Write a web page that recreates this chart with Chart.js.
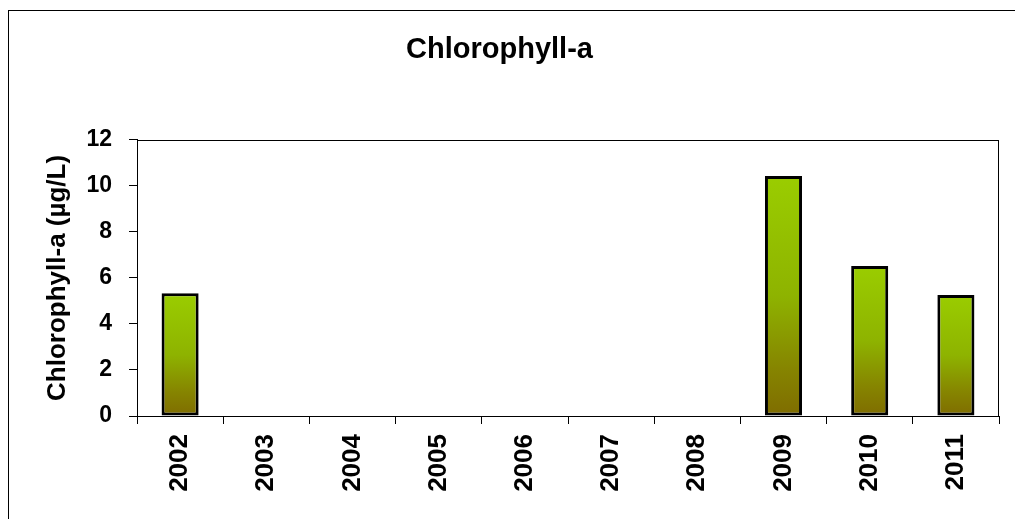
<!DOCTYPE html>
<html>
<head>
<meta charset="utf-8">
<script src="https://cdn.jsdelivr.net/npm/chart.js@4/dist/chart.umd.min.js"></script>
<style>
  html, body { margin: 0; padding: 0; background: #fff; overflow: hidden; }
  #wrap { position: relative; width: 1015px; height: 519px; }
  #frame { position: absolute; left: 8px; top: 10px; width: 1100px; height: 600px; border: 1px solid #000; box-sizing: border-box; }
  canvas { position: absolute; left: 0; top: 0; }
</style>
</head>
<body>
<div id="wrap">
  <div id="frame"></div>
  <canvas id="c" width="1015" height="519"></canvas>
</div>
<script>
const chartTitle = "Chlorophyll-a";
const yAxisTitle = "Chlorophyll-a (µg/L)";
const years = ["2002", "2003", "2004", "2005", "2006", "2007", "2008", "2009", "2010", "2011"];
const chlorophyll = [5.33, null, null, null, null, null, null, 10.43, 6.52, 5.26];
const yMin = 0, yMax = 12, yStep = 2;

function barGradient(ctx) {
  const chart = ctx.chart;
  const v = ctx.raw;
  if (!chart.chartArea || v == null) return '#8fb000';
  const y = chart.scales.y;
  const top = y.getPixelForValue(v);
  const bottom = y.getPixelForValue(0);
  if (!isFinite(top) || !isFinite(bottom) || bottom - top < 1) return '#8fb000';
  const g = chart.ctx.createLinearGradient(0, top, 0, bottom);
  g.addColorStop(0, '#9acd00');
  g.addColorStop(0.5, '#8eb300');
  g.addColorStop(0.8, '#868500');
  g.addColorStop(1, '#7f6c00');
  return g;
}

const frameBox = {
  id: 'frameBox',
  afterDatasetsDraw(chart) {
    const a = chart.chartArea, c = chart.ctx;
    c.save();
    c.strokeStyle = '#000';
    c.lineWidth = 1;
    c.strokeRect(Math.round(a.left) + 0.5, Math.round(a.top) + 0.5, Math.round(a.right - a.left) - 1, Math.round(a.bottom - a.top));
    c.restore();
  }
};

new Chart(document.getElementById('c'), {
  type: 'bar',
  data: {
    labels: years,
    datasets: [{
      data: chlorophyll,
      backgroundColor: barGradient,
      borderColor: '#000',
      borderWidth: 3,
      borderSkipped: false,
      categoryPercentage: 1,
      barPercentage: 0.43
    }]
  },
  options: {
    responsive: false,
    animation: false,
    devicePixelRatio: 1,
    layout: { padding: { left: 0, right: 16, top: 0, bottom: 0 } },
    plugins: {
      legend: { display: false },
      tooltip: { enabled: false },
      title: {
        display: true,
        text: chartTitle,
        color: '#000',
        font: { family: 'Liberation Sans, Arial, sans-serif', size: 29, weight: 'bold', lineHeight: 1.2 },
        padding: { top: 33, bottom: 72 }
      }
    },
    scales: {
      x: {
        afterFit(s) { s.height = 103; },
        grid: { display: true, drawOnChartArea: false, drawTicks: true, tickLength: 8, color: '#000', offset: true },
        border: { display: true, color: '#000', width: 1 },
        ticks: {
          color: '#000',
          minRotation: 90, maxRotation: 90,
          padding: 10,
          font: { family: 'Liberation Sans, Arial, sans-serif', size: 26, weight: 'bold' }
        }
      },
      y: {
        min: yMin, max: yMax,
        afterFit(s) { s.width = 137; },
        grid: { display: true, drawOnChartArea: false, drawTicks: true, tickLength: 8, color: '#000' },
        border: { display: true, color: '#000', width: 1 },
        ticks: {
          stepSize: yStep,
          color: '#000',
          padding: 17,
          font: { family: 'Liberation Sans, Arial, sans-serif', size: 23, weight: 'bold' }
        },
        title: {
          display: true,
          text: yAxisTitle,
          color: '#000',
          padding: { top: 42, bottom: 0 },
          font: { family: 'Liberation Sans, Arial, sans-serif', size: 26, weight: 'bold', lineHeight: 1.2 }
        }
      }
    }
  },
  plugins: [frameBox]
});
</script>
</body>
</html>
